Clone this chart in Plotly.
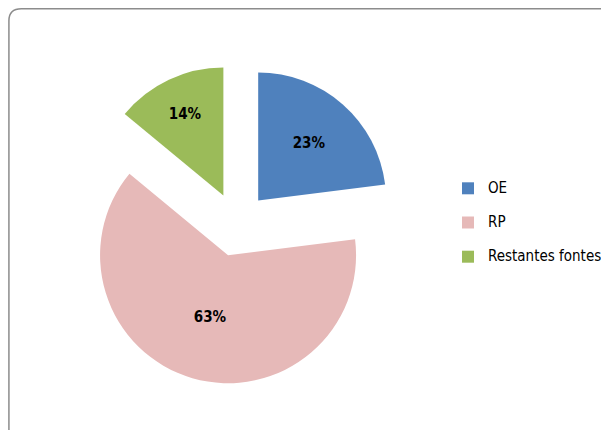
import plotly.graph_objects as go

labels = ["OE", "RP", "Restantes fontes"]
values = [23, 63, 14]
colors = ["#4F81BD", "#E6B9B8", "#9BBB59"]
pulls = [0.25, 0.25, 0.25]

W, H = 609, 430
cx, cy, r = 229, 216.5, 128
half = r * (1 + max(pulls))

FONT = "DejaVu Sans Condensed, Liberation Sans Narrow, Liberation Sans, sans-serif"
legend_labels = ['<span style="font-size:15px">%s</span><br> ' % l for l in labels]

fig = go.Figure(go.Pie(
    labels=legend_labels, values=values, sort=False, direction="clockwise", rotation=0,
    pull=pulls, marker=dict(colors=colors, line=dict(width=0)),
    textposition="inside", insidetextorientation="horizontal",
    texttemplate="<b>%{percent:.0%}</b>",
    hovertemplate="%{percent:.0%}<extra></extra>",
    textfont=dict(family=FONT, size=15, color="black"),
    domain=dict(x=[(cx - half) / W, (cx + half) / W],
                y=[(H - cy - half) / H, (H - cy + half) / H]),
))

fig.update_layout(
    width=W, height=H, margin=dict(l=0, r=0, t=0, b=0, autoexpand=False),
    paper_bgcolor="white", plot_bgcolor="white",
    showlegend=True,
    legend=dict(x=440 / W, y=(H - 178 + 12) / H, xanchor="left", yanchor="top",
                valign="top",
                font=dict(family=FONT, size=12, color="black"),
                bgcolor="rgba(0,0,0,0)"),
    shapes=[dict(type="path", xref="paper", yref="paper",
                 path="M 0.0015,0.97 Q 0.0015,0.998 0.022,0.998 L 1.01,0.998 L 1.01,-0.01 L 0.0015,-0.01 Z",
                 line=dict(color="#8c8c8c", width=1.5), fillcolor="rgba(0,0,0,0)")],
)

fig.write_html("out.html")
